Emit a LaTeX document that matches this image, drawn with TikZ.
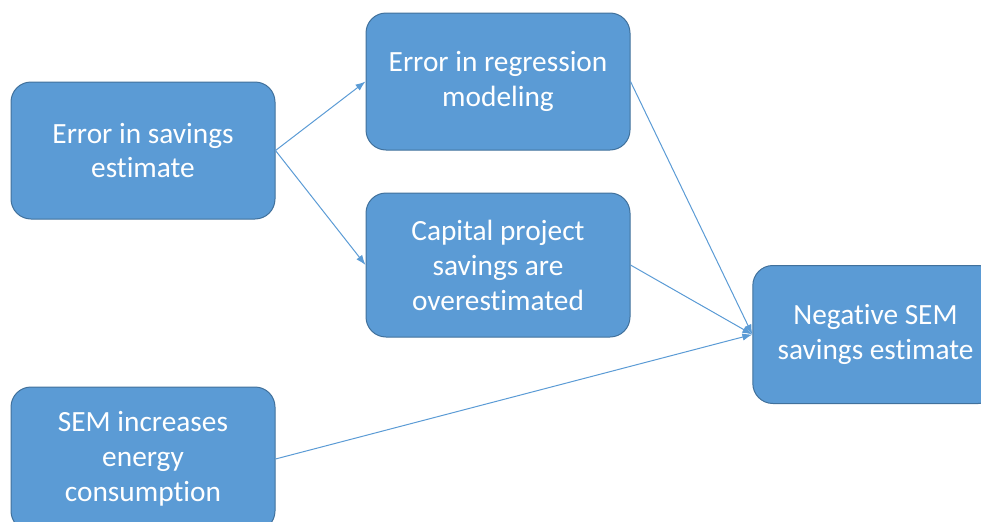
\documentclass[tikz,border=0pt]{standalone}
\usepackage{fontspec}
\setmainfont{Carlito}[Ligatures=NoCommon]
\usepackage{tikz}
\usetikzlibrary{arrows.meta,positioning}
\definecolor{boxblue}{RGB}{91,155,213}
\definecolor{boxedge}{RGB}{65,113,156}

\tikzset{
  causebox/.style={draw=boxedge, line width=0.75pt, fill=boxblue, text=white,
    rounded corners=15pt, align=center, inner sep=2pt,
    minimum width=198pt, font=\fontsize{22}{26.2}\selectfont},
  causearrow/.style={-{Latex[length=7.5pt,width=5.5pt]}, draw=boxblue, line width=0.75pt}
}

\begin{document}
\begin{tikzpicture}[x=0.75pt, y=-0.75pt]

% ==========================================
% Canvas
% ==========================================
\useasboundingbox (0,0) rectangle (981,521);
\clip (0,0) rectangle (981,521);

% ==========================================
% Cause Boxes
% ==========================================
\node[causebox, minimum height=102.75pt] (savings) at (143,150.5) {Error in savings\\estimate};
\node[causebox, minimum height=102.75pt] (regression) at (498,81.5) {Error in regression\\modeling};
\node[causebox, minimum height=108pt] (capital) at (498,265) {Capital project\\savings are\\overestimated};
\node[causebox, minimum height=108pt] (increase) at (143,459) {SEM increases\\energy\\consumption};

% Effect Box
\node[causebox, minimum width=184pt, minimum height=103.5pt] (negative) at (875.5,334.5) {Negative SEM\\savings estimate};

% ==========================================
% Connectors
% ==========================================
\draw[causearrow] (savings.east) -- (regression.west);
\draw[causearrow] (savings.east) -- (capital.west);
\draw[causearrow] (regression.east) -- (negative.west);
\draw[causearrow] (capital.east) -- (negative.west);
\draw[causearrow] (increase.east) -- (negative.west);

\end{tikzpicture}
\end{document}
